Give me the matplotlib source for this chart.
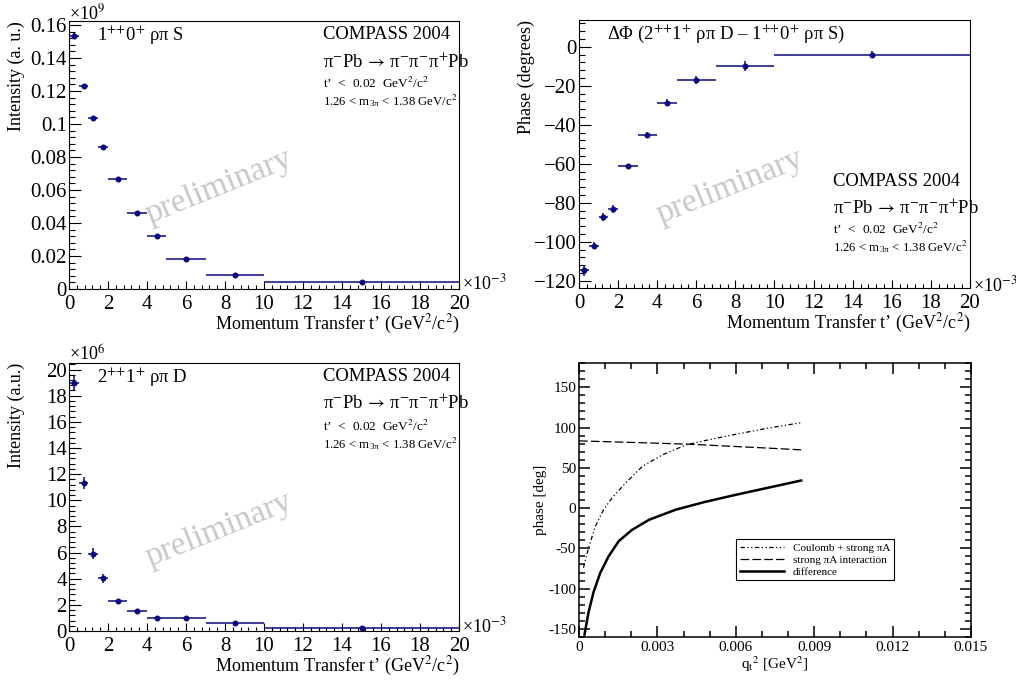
import numpy as np
import matplotlib
matplotlib.use("Agg")
import matplotlib.pyplot as plt
from matplotlib.ticker import MultipleLocator, AutoMinorLocator, FuncFormatter

plt.rcParams['font.family'] = ['Liberation Serif', 'DejaVu Serif']
plt.rcParams['mathtext.fontset'] = 'stix'

# t' bins (units of 1e-3 GeV^2/c^2)
t_lo = [0, 0.5, 1, 1.5, 2, 3, 4, 5, 7, 10]
t_hi = [0.5, 1, 1.5, 2, 3, 4, 5, 7, 10, 20]

# 1++0+ rho pi S intensity (x 1e9)
int_s = [0.1535, 0.1228, 0.1038, 0.0862, 0.0665, 0.0461, 0.0322, 0.0183, 0.0085, 0.0040]
int_s_err = [0.0015, 0.0012, 0.0010, 0.0009, 0.0007, 0.0006, 0.0005, 0.0004, 0.0003, 0.0002]

# phase difference (degrees)
phase = [-114.5, -102, -87.5, -83, -61, -45, -28.7, -17.2, -10, -4]
phase_err = [2.8, 1.8, 2.1, 2.1, 1.0, 1.5, 1.7, 2.0, 2.5, 1.7]

# 2++1+ rho pi D intensity (x 1e6)
int_d = [18.95, 11.35, 5.9, 4.02, 2.32, 1.55, 1.0, 1.0, 0.6, 0.2]
int_d_err = [0.55, 0.45, 0.42, 0.35, 0.12, 0.1, 0.08, 0.08, 0.06, 0.04]

# theory curves, phase vs q_t^2
x_cs = [0.00017, 0.00036, 0.00062, 0.00094, 0.00126, 0.00178, 0.00242, 0.00319, 0.0041, 0.0050, 0.0059, 0.0072, 0.0085]
y_cs = [-74, -50, -23, -2, 12.4, 31, 51.7, 66, 78.5, 85, 91, 99, 106]
x_st = [0.0, 0.002, 0.0042, 0.00725, 0.0085]
y_st = [83.4, 81.5, 79.3, 74.4, 72.3]
x_diff = [0.00021, 0.00036, 0.00055, 0.00081, 0.00113, 0.00152, 0.00203, 0.00268, 0.0037, 0.0048, 0.006, 0.0072, 0.0085]
y_diff = [-157, -130, -105, -80.6, -60, -41, -27, -14.5, -2, 7.5, 16.5, 25, 34.2]

navy = '#0a0a80'
grey = '#c8c8c8'

t_lo = np.array(t_lo)
t_hi = np.array(t_hi)
t_mid = (t_lo + t_hi) / 2
t_hw = (t_hi - t_lo) / 2

fig = plt.figure(figsize=(10.16, 6.81), dpi=100)

def fmt_minus(v, pos):
    s = '%g' % v
    return s.replace('-', '\u2212')

reaction = "\u03c0$^{-}$Pb$\\,\\rightarrow\\,$\u03c0$^{-}$\u03c0$^{-}$\u03c0$^{+}$Pb"

def root_axes(rect, ylim, ymajor, ytitle, label, info_y, info_left, prelim_y, xmult_y):
    ax = fig.add_axes(rect)
    ax.set_xlim(0, 20)
    ax.set_ylim(*ylim)
    ax.xaxis.set_major_locator(MultipleLocator(2))
    ax.xaxis.set_minor_locator(AutoMinorLocator(5))
    ax.yaxis.set_major_locator(MultipleLocator(ymajor))
    ax.yaxis.set_minor_locator(AutoMinorLocator(5))
    ax.yaxis.set_major_formatter(FuncFormatter(fmt_minus))
    ax.xaxis.set_major_formatter(FuncFormatter(fmt_minus))
    ax.tick_params(which='both', direction='in', top=False, right=False, width=0.8, labelsize=15)
    ax.tick_params(axis='y', which='major', length=8.4, pad=1.5)
    ax.tick_params(axis='y', which='minor', length=4.2)
    ax.tick_params(axis='x', which='major', length=5.8, pad=4.5)
    ax.tick_params(axis='x', which='minor', length=2.9)
    for sp in ax.spines.values():
        sp.set_linewidth(0.8)
    ax.text(1.0, -0.134, "Momentum Transfer t\u2019 (GeV$^{2}$/c$^{2}$)", transform=ax.transAxes,
            ha='right', va='center', fontsize=13)
    ax.text(-0.134, 1.0, ytitle, transform=ax.transAxes, rotation=90, ha='center', va='top', fontsize=13)
    ax.text(1.007, xmult_y, "\u00d710$^{-3}$", transform=ax.transAxes, ha='left', va='center', fontsize=13)
    ax.text(0.072, 0.948, label, transform=ax.transAxes, ha='left', va='center', fontsize=13.4)
    ax.text(0.385, prelim_y, "preliminary", transform=ax.transAxes, ha='center', va='center',
            rotation=22, fontsize=24, color=grey)
    ys = info_y
    ax.text(info_left, ys[0], "COMPASS 2004", transform=ax.transAxes, ha='left', va='center', fontsize=13.4)
    ax.text(info_left, ys[1], reaction, transform=ax.transAxes, ha='left', va='center', fontsize=13.4)
    ax.text(info_left, ys[2], "t\u2019  <  0.02  GeV$^{2}$/c$^{2}$", transform=ax.transAxes,
            ha='left', va='center', fontsize=9.6)
    ax.text(info_left, ys[3], "1.26 < m$_{\\mathregular{3\u03c0}}$ < 1.38 GeV/c$^{2}$", transform=ax.transAxes,
            ha='left', va='center', fontsize=9.2)
    return ax

# panel 1
ax1 = root_axes([0.0679, 0.5756, 0.3839, 0.3935], (0, 0.1624), 0.02, "Intensity (a. u.)",
                "1$^{{+}{+}}$0$^{+}$ \u03c1\u03c0 S", [0.948, 0.848, 0.767, 0.705], 0.651, 0.38, 0.022)
ax1.errorbar(t_mid, int_s, xerr=t_hw, yerr=int_s_err, fmt='o', ms=3.3, color=navy,
             elinewidth=1.1, capsize=0)
fig.text(69 / 1016, 1 - 13 / 681, "\u00d710$^{9}$", ha='left', va='center', fontsize=13)

# panel 2
ax2 = root_axes([0.5699, 0.5771, 0.3848, 0.3935], (-123.7, 13.7), 20, "Phase (degrees)",
                "\u0394\u03a6 (2$^{{+}{+}}$1$^{+}$ \u03c1\u03c0 D \u2013 1$^{{+}{+}}$0$^{+}$ \u03c1\u03c0 S)",
                [0.399, 0.297, 0.219, 0.154], 0.650, 0.377, 0.011)
ax2.errorbar(t_mid, phase, xerr=t_hw, yerr=phase_err, fmt='o', ms=3.3, color=navy,
             elinewidth=1.1, capsize=0)

# panel 3
ax3 = root_axes([0.0679, 0.0734, 0.3839, 0.3935], (0, 20.5), 2, "Intensity (a.u.)",
                "2$^{{+}{+}}$1$^{+}$ \u03c1\u03c0 D", [0.949, 0.85, 0.762, 0.70], 0.651, 0.377, 0.016)
ax3.errorbar(t_mid, int_d, xerr=t_hw, yerr=int_d_err, fmt='o', ms=3.3, color=navy,
             elinewidth=1.1, capsize=0)
fig.text(69 / 1016, 1 - 355 / 681, "\u00d710$^{6}$", ha='left', va='center', fontsize=13)

# panel 4
ax4 = fig.add_axes([0.5699, 0.0646, 0.3858, 0.4023])
ax4.plot(x_cs, y_cs, color='black', lw=0.9, dashes=(3.5, 2, 1, 2, 1, 2), label="Coulomb + strong \u03c0A")
ax4.plot(x_st, y_st, color='black', lw=0.9, dashes=(7, 2.5), label="strong \u03c0A interaction")
ax4.plot(x_diff, y_diff, color='black', lw=1.8, label="difference")
ax4.set_xlim(0, 0.015)
ax4.set_ylim(-160, 180)
ax4.xaxis.set_major_locator(MultipleLocator(0.003))
ax4.xaxis.set_minor_locator(AutoMinorLocator(3))
ax4.yaxis.set_major_locator(MultipleLocator(50))
ax4.yaxis.set_minor_locator(AutoMinorLocator(5))
ax4.xaxis.set_major_formatter(FuncFormatter(lambda v, p: '%g' % round(v, 6)))
ax4.yaxis.set_major_formatter(FuncFormatter(lambda v, p: '%g' % v))
ax4.tick_params(which='both', direction='in', top=True, right=True, width=1.1, labelsize=11)
ax4.tick_params(which='major', length=8)
ax4.tick_params(which='minor', length=4.3)
ax4.tick_params(axis='y', pad=2)
ax4.tick_params(axis='x', pad=3)
for sp in ax4.spines.values():
    sp.set_linewidth(1.1)
ax4.set_ylabel("phase [deg]", fontsize=11, labelpad=1)
ax4.set_xlabel("q$_{\\mathrm{t}}$$^{2}$ [GeV$^{2}$]", fontsize=11, labelpad=0)
leg = ax4.legend(loc='upper left', bbox_to_anchor=(0.40, 0.358), fontsize=8, frameon=True,
                 fancybox=False, edgecolor='black', framealpha=1, handlelength=4.0,
                 borderpad=0.35, labelspacing=0.2, handletextpad=0.8, borderaxespad=0)
leg.get_frame().set_linewidth(0.8)

fig.savefig("out.png", dpi=100)
